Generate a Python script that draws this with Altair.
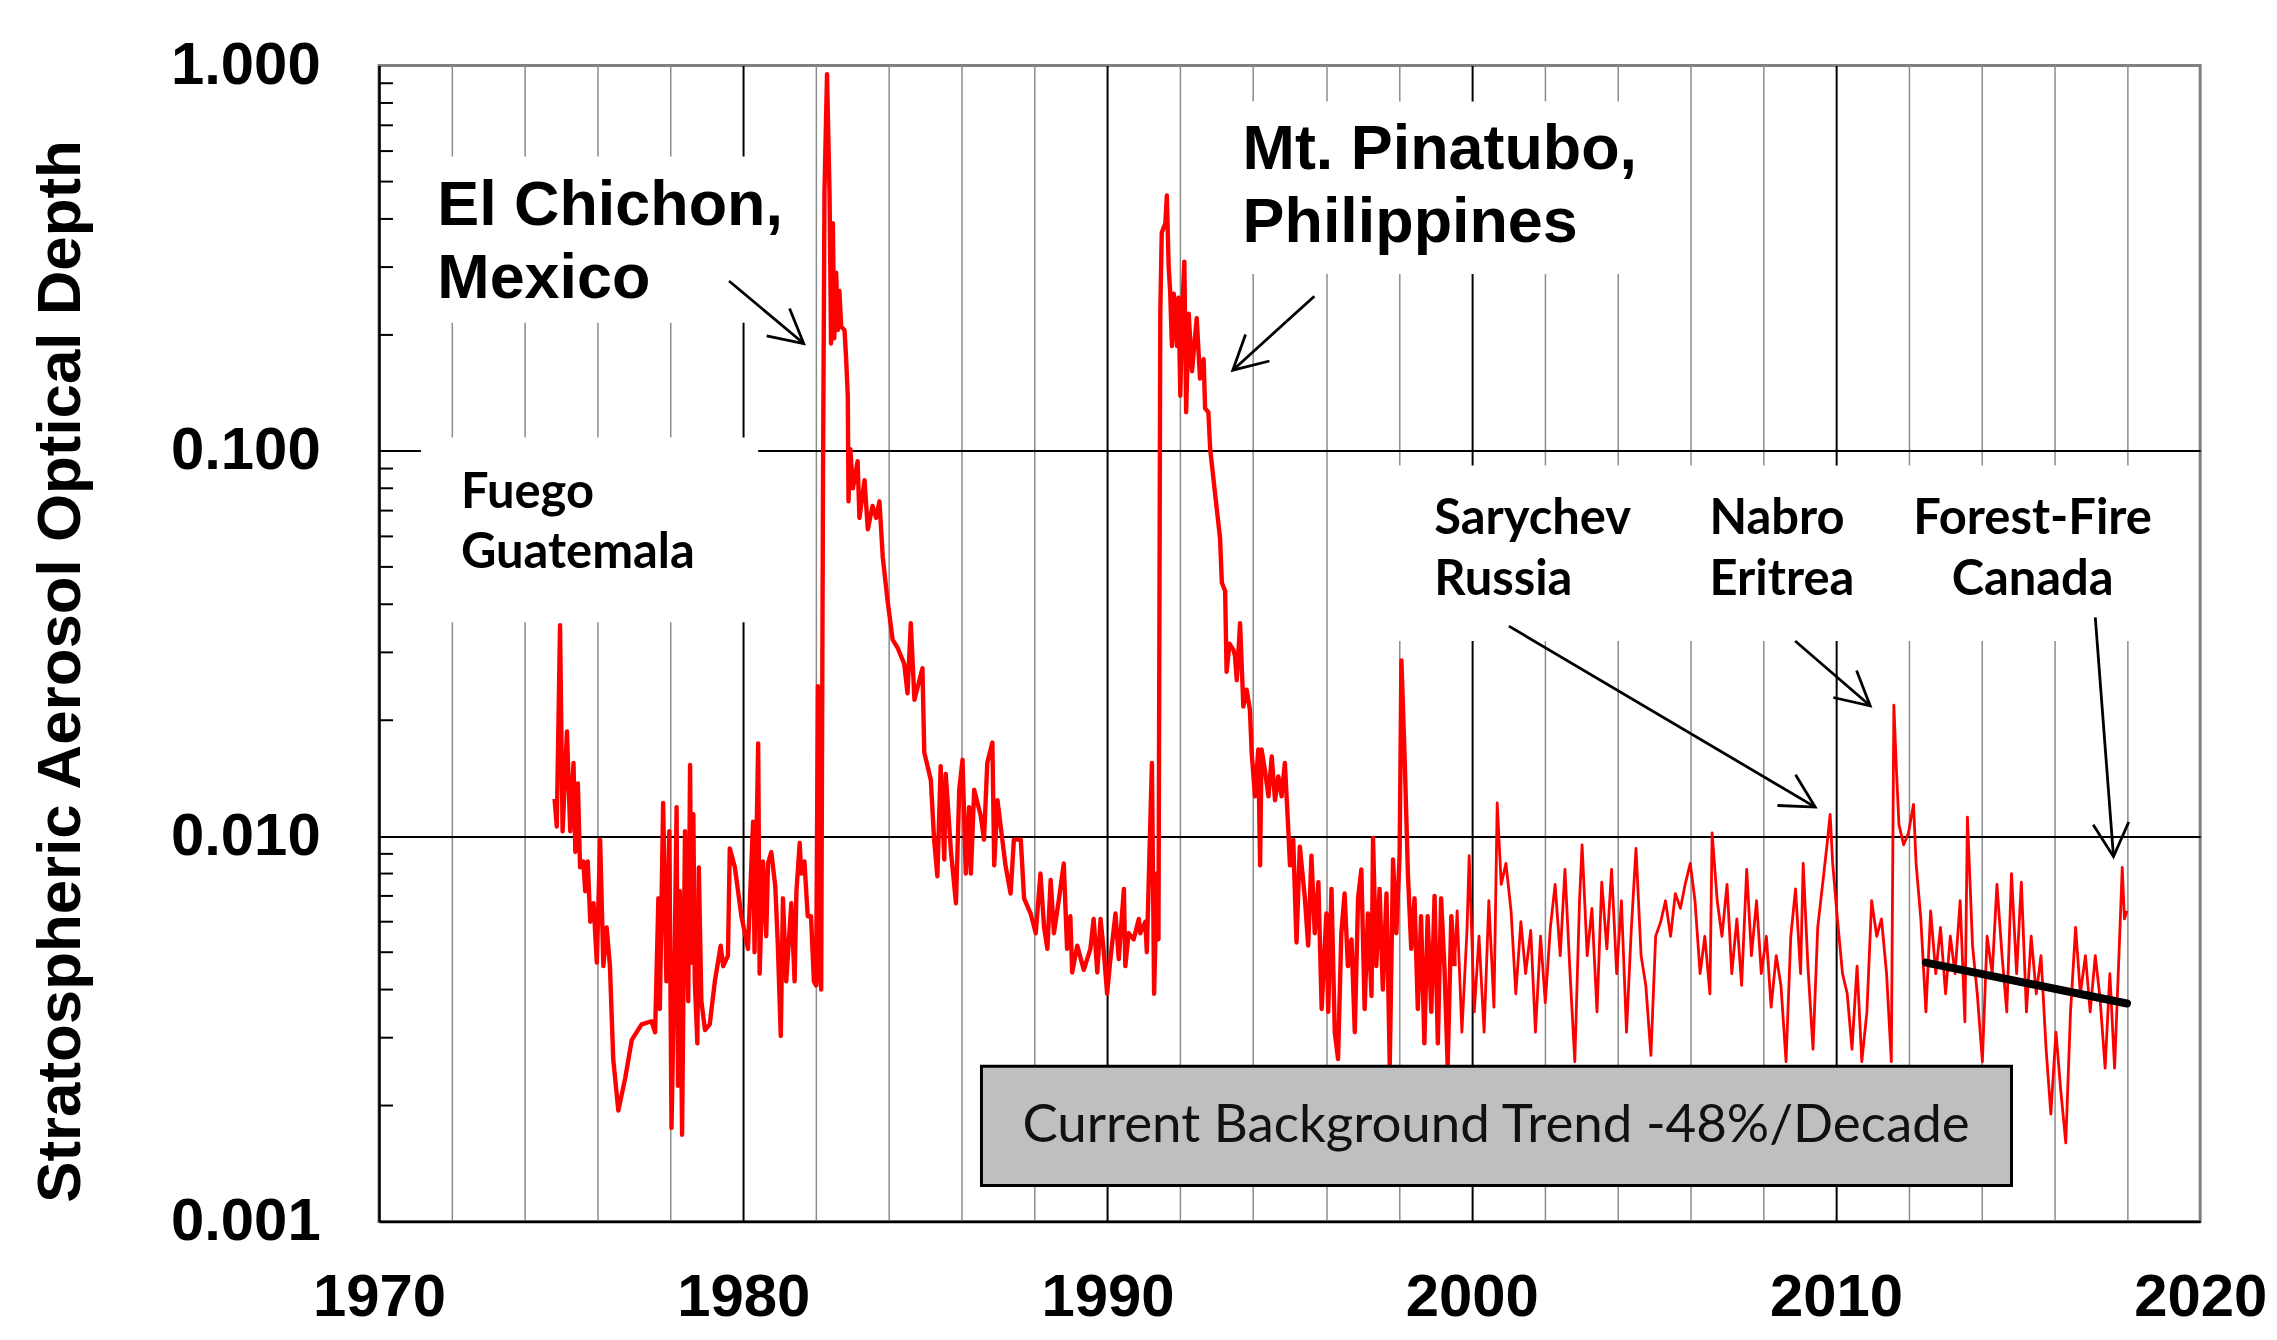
import math
import altair as alt
import pandas as pd

# ---------------- data ----------------
# thick part of the record (1974.8 - 1999.5)
years_a = [
    1974.82, 1974.88, 1974.97, 1975.04, 1975.16, 1975.25, 1975.34, 1975.39, 1975.46, 1975.52,
    1975.61, 1975.66, 1975.73, 1975.80, 1975.89, 1975.98, 1976.07, 1976.16, 1976.25, 1976.34,
    1976.43, 1976.57, 1976.76, 1976.94, 1977.21, 1977.48, 1977.58, 1977.67, 1977.71, 1977.80,
    1977.89, 1977.97, 1978.03, 1978.12, 1978.17, 1978.21, 1978.26, 1978.32, 1978.40, 1978.49,
    1978.54, 1978.58, 1978.63, 1978.67, 1978.74, 1978.78, 1978.85, 1978.95, 1979.08, 1979.22,
    1979.38, 1979.45, 1979.58, 1979.63, 1979.77, 1979.95, 1980.13, 1980.27, 1980.31, 1980.41,
    1980.45, 1980.54, 1980.63, 1980.68, 1980.77, 1980.88, 1980.95, 1981.03, 1981.09, 1981.18,
    1981.32, 1981.41, 1981.46, 1981.55, 1981.59, 1981.68, 1981.77, 1981.86, 1981.94, 1982.00,
    1982.05, 1982.10, 1982.14, 1982.19, 1982.23, 1982.30, 1982.37, 1982.41, 1982.46, 1982.50,
    1982.55, 1982.60, 1982.64, 1982.69, 1982.78, 1982.82, 1982.87, 1982.89, 1982.94, 1983.01,
    1983.14, 1983.19, 1983.33, 1983.42, 1983.55, 1983.65, 1983.74, 1983.83, 1983.96, 1984.10,
    1984.24, 1984.42, 1984.51, 1984.60, 1984.70, 1984.92, 1984.97, 1985.15, 1985.24, 1985.33,
    1985.42, 1985.52, 1985.56, 1985.70, 1985.84, 1985.93, 1986.02, 1986.11, 1986.20, 1986.25,
    1986.34, 1986.52, 1986.61, 1986.70, 1986.84, 1986.89, 1986.98, 1987.20, 1987.34, 1987.43,
    1987.62, 1987.71, 1987.89, 1988.03, 1988.16, 1988.26, 1988.35, 1988.44, 1988.53, 1988.67,
    1988.80, 1988.89, 1988.98, 1989.03, 1989.17, 1989.35, 1989.53, 1989.62, 1989.72, 1989.81,
    1989.90, 1989.99, 1990.08, 1990.22, 1990.31, 1990.45, 1990.49, 1990.58, 1990.72, 1990.86,
    1990.90, 1991.04, 1991.08, 1991.22, 1991.28, 1991.36, 1991.40, 1991.45, 1991.49, 1991.59,
    1991.63, 1991.68, 1991.72, 1991.77, 1991.82, 1991.91, 1991.95, 1992.00, 1992.04, 1992.11,
    1992.16, 1992.23, 1992.32, 1992.45, 1992.54, 1992.64, 1992.68, 1992.77, 1992.82, 1992.95,
    1993.09, 1993.14, 1993.23, 1993.27, 1993.35, 1993.46, 1993.50, 1993.55, 1993.64, 1993.73,
    1993.82, 1993.91, 1993.96, 1994.05, 1994.14, 1994.19, 1994.23, 1994.32, 1994.42, 1994.51,
    1994.60, 1994.69, 1994.78, 1994.87, 1994.96, 1995.01, 1995.10, 1995.15, 1995.19, 1995.28,
    1995.42, 1995.51, 1995.60, 1995.69, 1995.79, 1995.88, 1996.01, 1996.06, 1996.15, 1996.24,
    1996.33, 1996.42, 1996.51, 1996.60, 1996.70, 1996.79, 1996.88, 1996.97, 1997.06, 1997.15,
    1997.25, 1997.29, 1997.38, 1997.47, 1997.56, 1997.66, 1997.75, 1997.84, 1997.93, 1998.02,
    1998.07, 1998.16, 1998.25, 1998.34, 1998.43, 1998.52, 1998.61, 1998.70, 1998.79, 1998.89,
    1998.98, 1999.07, 1999.16, 1999.25, 1999.34, 1999.44, 1999.53,
]
aod_a = [
    0.0125, 0.0106, 0.0353, 0.0103, 0.0187, 0.0103, 0.0155, 0.0091, 0.0137, 0.0083,
    0.0086, 0.0072, 0.0086, 0.0060, 0.0067, 0.0047, 0.0098, 0.0046, 0.0058, 0.0046,
    0.00264, 0.00194, 0.00236, 0.00296, 0.00325, 0.00331, 0.0031, 0.0069, 0.00356, 0.0122,
    0.0042, 0.0103, 0.00175, 0.0052, 0.0119, 0.00225, 0.0072, 0.00168, 0.0103, 0.00373,
    0.0153, 0.0047, 0.0114, 0.0042, 0.0029, 0.0083, 0.00373, 0.00314, 0.00325, 0.0042,
    0.0052, 0.0046, 0.0049, 0.0093, 0.0083, 0.0062, 0.0051, 0.0109, 0.0050, 0.0174,
    0.0044, 0.0086, 0.0055, 0.0085, 0.0091, 0.0074, 0.0052, 0.00303, 0.0069, 0.0042,
    0.0067, 0.0042, 0.0072, 0.0096, 0.0080, 0.0086, 0.0062, 0.0062, 0.0042, 0.0041,
    0.0245, 0.0045, 0.0040, 0.086, 0.47, 0.95, 0.46, 0.19, 0.39, 0.196,
    0.29, 0.206, 0.26, 0.21, 0.206, 0.177, 0.139, 0.074, 0.101, 0.080,
    0.094, 0.067, 0.084, 0.0626, 0.072, 0.067, 0.074, 0.053, 0.041, 0.0324,
    0.0308, 0.028, 0.0235, 0.0357, 0.0226, 0.0273, 0.0165, 0.0140, 0.0098, 0.00787,
    0.0152, 0.0087, 0.0145, 0.0092, 0.0067, 0.0132, 0.0158, 0.0080, 0.0119, 0.0080,
    0.0132, 0.0113, 0.0098, 0.0155, 0.0175, 0.0084, 0.0124, 0.0084, 0.0071, 0.0098,
    0.0098, 0.0069, 0.0063, 0.0056, 0.0080, 0.0058, 0.0051, 0.0077, 0.0056, 0.0069,
    0.0085, 0.0051, 0.0062, 0.00443, 0.0052, 0.0045, 0.0051, 0.0061, 0.00443, 0.0061,
    0.0050, 0.0039, 0.0048, 0.0063, 0.0048, 0.0073, 0.0046, 0.0056, 0.0054, 0.0061,
    0.0056, 0.0060, 0.0050, 0.0155, 0.0039, 0.0080, 0.0054, 0.227, 0.369, 0.39,
    0.46, 0.30, 0.26, 0.187, 0.256, 0.187, 0.25, 0.139, 0.216, 0.31,
    0.126, 0.227, 0.161, 0.221, 0.154, 0.173, 0.129, 0.126, 0.101, 0.078,
    0.0594, 0.0455, 0.0433, 0.0267, 0.0316, 0.0304, 0.0294, 0.0254, 0.0357, 0.0217,
    0.024, 0.0213, 0.0164, 0.0127, 0.0168, 0.0084, 0.0168, 0.0149, 0.0127, 0.0161,
    0.0124, 0.0143, 0.0127, 0.0155, 0.0106, 0.0084, 0.0098, 0.0069, 0.0053, 0.0094,
    0.0069, 0.0052, 0.0089, 0.0056, 0.0076, 0.00356, 0.0063, 0.0035, 0.0073, 0.0031,
    0.00264, 0.0056, 0.0071, 0.0046, 0.0054, 0.0031, 0.0069, 0.0082, 0.00356, 0.0063,
    0.00385, 0.0099, 0.0046, 0.0073, 0.0040, 0.0071, 0.00254, 0.0087, 0.0056, 0.0089,
    0.0286, 0.0158, 0.0079, 0.0051, 0.0069, 0.00356, 0.0062, 0.0029, 0.0062, 0.0035,
    0.0070, 0.0029, 0.0069, 0.0046, 0.00254, 0.0062, 0.0046,
]

# thin part of the record (1999.5 - 2018)
years_b = [
    1999.53, 1999.60, 1999.73, 1999.87, 1999.93, 2000.07, 2000.20, 2000.34, 2000.47, 2000.61,
    2000.70, 2000.81, 2000.94, 2001.08, 2001.21, 2001.35, 2001.48, 2001.62, 2001.75, 2001.89,
    2002.02, 2002.16, 2002.29, 2002.43, 2002.56, 2002.70, 2002.83, 2002.96, 2003.03, 2003.17,
    2003.30, 2003.44, 2003.57, 2003.71, 2003.84, 2003.98, 2004.11, 2004.25, 2004.38, 2004.51,
    2004.65, 2004.78, 2004.92, 2005.05, 2005.19, 2005.32, 2005.46, 2005.59, 2005.73, 2005.86,
    2006.00, 2006.13, 2006.27, 2006.40, 2006.54, 2006.60, 2006.74, 2006.87, 2007.01, 2007.14,
    2007.28, 2007.41, 2007.55, 2007.68, 2007.82, 2007.95, 2008.09, 2008.22, 2008.36, 2008.49,
    2008.63, 2008.76, 2008.89, 2009.03, 2009.10, 2009.23, 2009.37, 2009.50, 2009.64, 2009.77,
    2009.84, 2009.91, 2010.04, 2010.18, 2010.31, 2010.44, 2010.58, 2010.71, 2010.85, 2010.98,
    2011.12, 2011.25, 2011.39, 2011.52, 2011.59, 2011.66, 2011.73, 2011.86, 2011.99, 2012.13,
    2012.20, 2012.33, 2012.47, 2012.60, 2012.74, 2012.87, 2013.01, 2013.14, 2013.27, 2013.41,
    2013.54, 2013.61, 2013.75, 2013.88, 2014.02, 2014.15, 2014.29, 2014.42, 2014.56, 2014.69,
    2014.82, 2014.96, 2015.09, 2015.23, 2015.36, 2015.50, 2015.63, 2015.77, 2015.90, 2016.04,
    2016.17, 2016.31, 2016.44, 2016.58, 2016.71, 2016.85, 2016.98, 2017.12, 2017.25, 2017.39,
    2017.52, 2017.65, 2017.79, 2017.86, 2017.92, 2017.99,
]
aod_b = [
    0.0046, 0.0064, 0.0031, 0.0057, 0.0089, 0.0035, 0.0055, 0.0031, 0.0068, 0.0036,
    0.0122, 0.0075, 0.0085, 0.0064, 0.0039, 0.0060, 0.0044, 0.0057, 0.0031, 0.0055,
    0.0037, 0.0058, 0.0075, 0.0049, 0.0082, 0.0044, 0.0026, 0.0068, 0.0095, 0.0049,
    0.0065, 0.0035, 0.0076, 0.0051, 0.0082, 0.0044, 0.0068, 0.0031, 0.0057, 0.0093,
    0.0049, 0.0041, 0.0027, 0.0055, 0.0060, 0.0068, 0.0055, 0.0071, 0.0065, 0.0075,
    0.0085, 0.0068, 0.0044, 0.0055, 0.0039, 0.0102, 0.0068, 0.0055, 0.0075, 0.0044,
    0.0061, 0.0041, 0.0082, 0.0049, 0.0068, 0.0044, 0.0055, 0.0036, 0.0049, 0.0041,
    0.0026, 0.0055, 0.0073, 0.0044, 0.0085, 0.0046, 0.0028, 0.0058, 0.0076, 0.0098,
    0.0114, 0.0085, 0.0061, 0.0044, 0.0039, 0.0028, 0.0046, 0.0026, 0.0035, 0.0068,
    0.0055, 0.0061, 0.0044, 0.0026, 0.0219, 0.0149, 0.0107, 0.0095, 0.0102, 0.0121,
    0.0085, 0.0061, 0.0035, 0.0064, 0.0044, 0.0058, 0.0039, 0.0055, 0.0044, 0.0068,
    0.0033, 0.0112, 0.0052, 0.0039, 0.0026, 0.0055, 0.0044, 0.0075, 0.0049, 0.0035,
    0.0080, 0.0044, 0.0076, 0.0035, 0.0055, 0.0039, 0.0049, 0.0028, 0.0019, 0.0031,
    0.0022, 0.0016, 0.0035, 0.0058, 0.0039, 0.0049, 0.0035, 0.0049, 0.0038, 0.0025,
    0.0044, 0.0025, 0.0055, 0.0083, 0.0061, 0.0064,
]

# background trend line
trend_years = [2012.47, 2017.99]
trend_aod = [0.0047, 0.00368]

# axis ticks
grid_years = list(range(1970, 2021, 2))
major_aod = [0.001, 0.01, 0.1, 1.0]
minor_aod = [0.002, 0.003, 0.004, 0.005, 0.006, 0.007, 0.008, 0.009,
             0.02, 0.03, 0.04, 0.05, 0.06, 0.07, 0.08, 0.09,
             0.2, 0.3, 0.4, 0.5, 0.6, 0.7, 0.8, 0.9]

# annotations (data coordinates)
big_lines = [["El Chichon,", "Mexico"], ["Mt. Pinatubo,", "Philippines"]]
big_x = [1971.60, 1993.71]
big_y = [0.385, 0.538]

small_lines = [["Fuego", "Guatemala"], ["Sarychev", "Russia"], ["Nabro", "Eritrea"]]
small_x = [1972.25, 1998.97, 2006.53]
small_y = [0.0713, 0.0607, 0.0607]

center_lines = [["Forest-Fire", "Canada"]]
center_x = [2015.40]
center_y = [0.0607]

arrow_x0 = [1979.61, 1995.68, 2001.02, 2008.88, 2017.12]
arrow_y0 = [0.276, 0.252, 0.0351, 0.0321, 0.0370]
arrow_x1 = [1981.66, 1993.44, 2009.43, 2010.94, 2017.62]
arrow_y1 = [0.190, 0.162, 0.0119, 0.0218, 0.00885]

# white backgrounds of the text boxes
mask_x0 = [1971.23, 1993.14, 1971.15, 1997.66]
mask_x1 = [1981.36, 2005.05, 1980.41, 2019.70]
mask_y0 = [0.581, 0.807, 0.1083, 0.0916]
mask_y1 = [0.215, 0.2877, 0.0359, 0.0321]

box_x = [1986.54, 2014.82]
box_y = [0.00124, 0.00253]
box_label = "Current Background Trend -48%/Decade"
box_label_pos = [2000.67, 0.00177]

# ---------------- chart ----------------
W, H = 1826, 1159
X_DOM = [1970, 2020]
Y_DOM = [0.001, 1.0]

xs = alt.Scale(domain=X_DOM, nice=False, zero=False)
ys = alt.Scale(type="log", domain=Y_DOM, nice=False)

xaxis = alt.Axis(
    values=grid_years, format="d",
    labelExpr="datum.value % 10 === 0 ? datum.label : ''",
    labelFont="Liberation Sans", labelFontSize=60, labelFontWeight="bold",
    labelColor="black", labelPadding=47, labelFlush=False, labelOverlap=False,
    ticks=False, tickSize=0, domainColor="black", domainWidth=2.5,
    grid=True,
    gridColor=alt.condition("datum.value % 10 === 0", alt.value("black"), alt.value("#8c8c8c")),
    gridWidth=alt.condition("datum.value % 10 === 0", alt.value(2), alt.value(1.5)),
    gridOpacity=alt.condition("datum.value == 1970 || datum.value == 2020", alt.value(0), alt.value(1)),
)
yaxis = alt.Axis(
    values=major_aod, format=".3f",
    labelFont="Liberation Sans", labelFontSize=60, labelFontWeight="bold",
    labelColor="black", labelPadding=59, labelFlush=False, labelOverlap=False,
    ticks=False, tickSize=0, domainColor="black", domainWidth=2.5,
    grid=True, gridColor="black", gridWidth=2,
    gridOpacity=alt.condition("datum.value >= 1 || datum.value <= 0.001", alt.value(0), alt.value(1)),
    title="Stratospheric Aerosol Optical Depth",
    titleFont="Liberation Sans", titleFontSize=62, titleFontWeight="bold",
    titleColor="black", titleAngle=270, titleX=-319, titleY=607,
    titleAlign="center", titleBaseline="middle",
)

X = alt.X("year:Q", scale=xs, axis=xaxis, title=None)
Y = alt.Y("aod:Q", scale=ys, axis=yaxis)

df_a = pd.DataFrame({"year": years_a, "aod": aod_a})
df_b = pd.DataFrame({"year": years_b, "aod": aod_b})
df_trend = pd.DataFrame({"year": trend_years, "aod": trend_aod})
df_mask = pd.DataFrame({"year": mask_x0, "year2": mask_x1, "aod": mask_y0, "aod2": mask_y1})
df_box = pd.DataFrame({"year": [box_x[0]], "year2": [box_x[1]], "aod": [box_y[0]], "aod2": [box_y[1]]})
df_boxtext = pd.DataFrame({"year": [box_label_pos[0]], "aod": [box_label_pos[1]], "label": [box_label]})
df_minor = pd.DataFrame({"aod": minor_aod})


def px(year):
    return (year - X_DOM[0]) / (X_DOM[1] - X_DOM[0]) * W


def py(v):
    return (math.log10(Y_DOM[1]) - math.log10(v)) / (math.log10(Y_DOM[1]) - math.log10(Y_DOM[0])) * H


angles = []
for a, b, c, d in zip(arrow_x0, arrow_y0, arrow_x1, arrow_y1):
    dx = px(c) - px(a)
    dy = py(d) - py(b)
    angles.append(math.degrees(math.atan2(-dx, dy)) % 360)

df_arrow = pd.DataFrame({"year": arrow_x0, "aod": arrow_y0, "year2": arrow_x1, "aod2": arrow_y1})
df_head = pd.DataFrame({"year": arrow_x1, "aod": arrow_y1, "angle": angles})

big_data = alt.Data(values=[{"year": x, "aod": y, "label": t} for t, x, y in zip(big_lines, big_x, big_y)])
small_data = alt.Data(values=[{"year": x, "aod": y, "label": t} for t, x, y in zip(small_lines, small_x, small_y)])
center_data = alt.Data(values=[{"year": x, "aod": y, "label": t} for t, x, y in zip(center_lines, center_x, center_y)])

masks = alt.Chart(df_mask).mark_rect(fill="white", stroke=None).encode(
    x=X, x2="year2:Q", y=Y, y2="aod2:Q")

line_a = alt.Chart(df_a).mark_line(color="#ff0000", strokeWidth=4.4, strokeJoin="round").encode(x=X, y=Y)
line_b = alt.Chart(df_b).mark_line(color="#ff0000", strokeWidth=2.8, strokeJoin="round").encode(x=X, y=Y)

trend = alt.Chart(df_trend).mark_line(color="black", strokeWidth=8, strokeCap="round").encode(x=X, y=Y)

box = alt.Chart(df_box).mark_rect(fill="#bfbfbf", stroke="black", strokeWidth=3).encode(
    x=X, x2="year2:Q", y=Y, y2="aod2:Q")
box_text = alt.Chart(df_boxtext).mark_text(
    font="Lato", fontSize=53, color="#111111", align="center", baseline="middle"
).encode(x=X, y=Y, text="label:N")

big_text = alt.Chart(big_data).mark_text(
    font="Liberation Sans", fontSize=63, fontWeight="bold", color="black",
    align="left", baseline="alphabetic", lineHeight=73
).encode(x=X, y=Y, text="label:N")

small_text = alt.Chart(small_data).mark_text(
    font="Lato", fontSize=49, fontWeight="bold", color="black",
    align="left", baseline="alphabetic", lineHeight=61
).encode(x=X, y=Y, text="label:N")

center_text = alt.Chart(center_data).mark_text(
    font="Lato", fontSize=49, fontWeight="bold", color="black",
    align="center", baseline="alphabetic", lineHeight=61
).encode(x=X, y=Y, text="label:N")

shafts = alt.Chart(df_arrow).mark_rule(color="black", strokeWidth=2.8).encode(
    x=X, x2="year2:Q", y=Y, y2="aod2:Q")

heads = alt.Chart(df_head).mark_point(
    shape="M -0.47 -0.88 L 0 0 L 0.47 -0.88", size=5776, filled=False,
    color="black", strokeWidth=2.8, opacity=1
).encode(x=X, y=Y, angle=alt.Angle("angle:Q", scale=None))

minor = alt.Chart(df_minor).mark_rule(color="black", strokeWidth=2).encode(
    y=Y, x=alt.value(0), x2=alt.value(14))

chart = alt.layer(
    masks, line_a, line_b, trend, box, box_text, big_text, small_text, center_text,
    shafts, heads, minor
).properties(
    width=W, height=H,
    autosize=alt.AutoSizeParams(type="none"),
    padding={"left": 372, "top": 56, "right": 69, "bottom": 109},
).configure_view(stroke="#808080", strokeWidth=3)

chart.save("out.html", embed_options={"renderer": "svg", "actions": False})
